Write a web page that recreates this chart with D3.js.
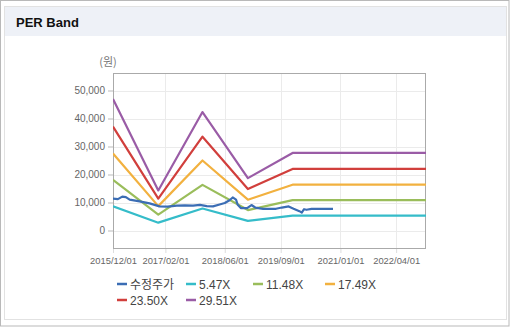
<!DOCTYPE html>
<html>
<head>
<meta charset="utf-8">
<script src="https://cdn.jsdelivr.net/npm/d3@7"></script>
<style>
  html, body { margin: 0; padding: 0; background: #fff; }
  svg { display: block; font-family: "Liberation Sans", Arial, sans-serif; }
</style>
</head>
<body>
<svg id="chart" width="510" height="327"></svg>
<script>
// ---------- data ----------
const title = "PER Band";
const yUnit = "(원)";
const xTickLabels = ["2015/12/01", "2017/02/01", "2018/06/01", "2019/09/01", "2021/01/01", "2022/04/01"];
const yTickValues = [0, 10000, 20000, 30000, 40000, 50000];

const seriesNames = ["수정주가", "5.47X", "11.48X", "17.49X", "23.50X", "29.51X"];
const seriesColors = ["#3b6db4", "#35bcc9", "#9abd5b", "#f2b13f", "#d13f3c", "#9a5ca6"];

// band vertices (dates + values)
const bandDates = ["2015/12/01", "2016/12/05", "2017/12/01", "2018/12/07", "2019/12/07", "2022/12/01"];
const band547  = [8650, 2800, 7850, 3450, 5300, 5300];
const band1148 = [18100, 5700, 16300, 7300, 10850, 10850];
const band1749 = [27500, 8700, 25000, 11000, 16350, 16350];
const band2350 = [37100, 11400, 33500, 14800, 22000, 22000];
const band2951 = [47000, 14300, 42300, 18700, 27700, 27700];

// adjusted price
const priceDates = ["2015/12/01", "2016/01/10", "2016/02/15", "2016/03/15", "2016/04/15", "2016/07/05",
  "2016/09/25", "2016/12/15", "2017/02/20", "2017/05/05", "2017/07/10", "2017/09/15", "2017/11/10",
  "2018/01/05", "2018/02/25", "2018/04/20", "2018/06/01", "2018/07/10", "2018/08/05", "2018/09/01",
  "2018/09/15", "2018/10/10", "2018/12/01", "2019/01/05", "2019/02/05", "2019/04/10", "2019/07/25",
  "2019/09/10", "2019/11/05", "2019/12/15", "2020/02/01", "2020/02/20", "2020/03/10", "2020/03/30",
  "2020/05/10", "2020/11/01"];
const priceValues = [11400, 11200, 12100, 11900, 11000, 10400,
  9700, 8600, 8500, 8900, 9000, 8900, 9150,
  8700, 8600, 9300, 9800, 10800, 11800, 11000,
  9200, 8000, 8000, 9100, 8200, 7750, 7750,
  8200, 8600, 7800, 6900, 6400, 7600, 7400,
  7700, 7700];

// ---------- drawing ----------
const parse = d3.timeParse("%Y/%m/%d");
const svg = d3.select("#chart");
const W = 510, H = 327;

// outer frame
svg.append("rect").attr("x", 0.5).attr("y", 0.5).attr("width", W - 1.5).attr("height", H - 1.5)
  .attr("fill", "#fff").attr("stroke", "#b9b9b9");
svg.append("rect").attr("x", 4.5).attr("y", 6.5).attr("width", 502).attr("height", 313)
  .attr("fill", "#fff").attr("stroke", "#e2e2e2");
svg.append("rect").attr("x", 5).attr("y", 7).attr("width", 501).attr("height", 29)
  .attr("fill", "#eef1f7");
svg.append("text").attr("x", 16).attr("y", 27).attr("font-size", 13).attr("font-weight", "bold")
  .attr("fill", "#111").text(title);

const m = { left: 113, right: 426, top: 73, bottom: 248 };
const x = d3.scaleTime().domain([parse("2015/12/01"), parse("2022/12/01")]).range([m.left, m.right]);
const y = d3.scaleLinear().domain([-6250, 56250]).range([m.bottom, m.top]);

// gridlines
const g = svg.append("g");
g.selectAll(".hg").data(yTickValues).join("line")
  .attr("x1", m.left).attr("x2", m.right)
  .attr("y1", d => Math.round(y(d)) + 0.5).attr("y2", d => Math.round(y(d)) + 0.5)
  .attr("stroke", "#ebebeb");
g.selectAll(".vg").data(xTickLabels.slice(1)).join("line")
  .attr("x1", d => Math.round(x(parse(d))) + 0.5).attr("x2", d => Math.round(x(parse(d))) + 0.5)
  .attr("y1", m.top).attr("y2", m.bottom)
  .attr("stroke", "#ebebeb");

// axes
const yAxis = d3.axisLeft(y).tickValues(yTickValues).tickSize(5).tickPadding(3)
  .tickFormat(d3.format(","));
const ya = svg.append("g").attr("transform", `translate(${m.left},0)`).call(yAxis);
ya.select(".domain").remove();
ya.selectAll("line").attr("stroke", "#bbb");
ya.selectAll("text").attr("fill", "#666").attr("font-size", 10)
  .attr("font-family", "'Liberation Sans', Arial, sans-serif");

const xAxis = d3.axisBottom(x).tickValues(xTickLabels.map(parse)).tickSize(5).tickPadding(4)
  .tickFormat(d3.timeFormat("%Y/%m/%d"));
const xa = svg.append("g").attr("transform", `translate(0,${m.bottom})`).call(xAxis);
xa.select(".domain").remove();
xa.selectAll("line").attr("stroke", "#ddd");
xa.selectAll("text").attr("fill", "#666").attr("font-size", 9.4)
  .attr("font-family", "'Liberation Sans', Arial, sans-serif");

svg.append("text").attr("x", 108).attr("y", 66).attr("text-anchor", "middle")
  .attr("font-size", 11).attr("fill", "#777")
  .attr("font-family", "'Noto Sans CJK KR', sans-serif").text(yUnit);

// plot border
svg.append("rect").attr("x", m.left + 0.5).attr("y", m.top + 0.5)
  .attr("width", m.right - m.left - 1).attr("height", m.bottom - m.top)
  .attr("fill", "none").attr("stroke", "#aaa");

// lines
const line = d3.line().x(d => x(d[0])).y(d => y(d[1]));
const bands = [band547, band1148, band1749, band2350, band2951];
const clip = svg.append("clipPath").attr("id", "clip").append("rect")
  .attr("x", m.left).attr("y", m.top).attr("width", m.right - m.left).attr("height", m.bottom - m.top);
const lg = svg.append("g").attr("clip-path", "url(#clip)");

const allSeries = [priceValues.map((v, i) => [parse(priceDates[i]), v])]
  .concat(bands.map(b => b.map((v, i) => [parse(bandDates[i]), v])));
// draw bands first then price on top? Price drawn after bands
[5, 4, 3, 2, 1, 0].forEach(i => {
  lg.append("path").datum(allSeries[i]).attr("d", line)
    .attr("fill", "none").attr("stroke", seriesColors[i]).attr("stroke-width", 2.2)
    .attr("stroke-linejoin", "round");
});

// legend
const legendPos = [[117, 284], [186, 284], [253, 284], [325, 284], [117, 300], [186, 300]];
const leg = svg.append("g");
seriesNames.forEach((n, i) => {
  const [lx, ly] = legendPos[i];
  leg.append("line").attr("x1", lx).attr("x2", lx + 10).attr("y1", ly).attr("y2", ly)
    .attr("stroke", seriesColors[i]).attr("stroke-width", 2.5);
  leg.append("text").attr("x", lx + 13).attr("y", ly + 4.5).attr("font-size", 12).attr("fill", "#444")
    .attr("font-family", i === 0 ? "'Noto Sans CJK KR', sans-serif" : "'Liberation Sans', Arial, sans-serif")
    .text(n);
});
</script>
</body>
</html>
